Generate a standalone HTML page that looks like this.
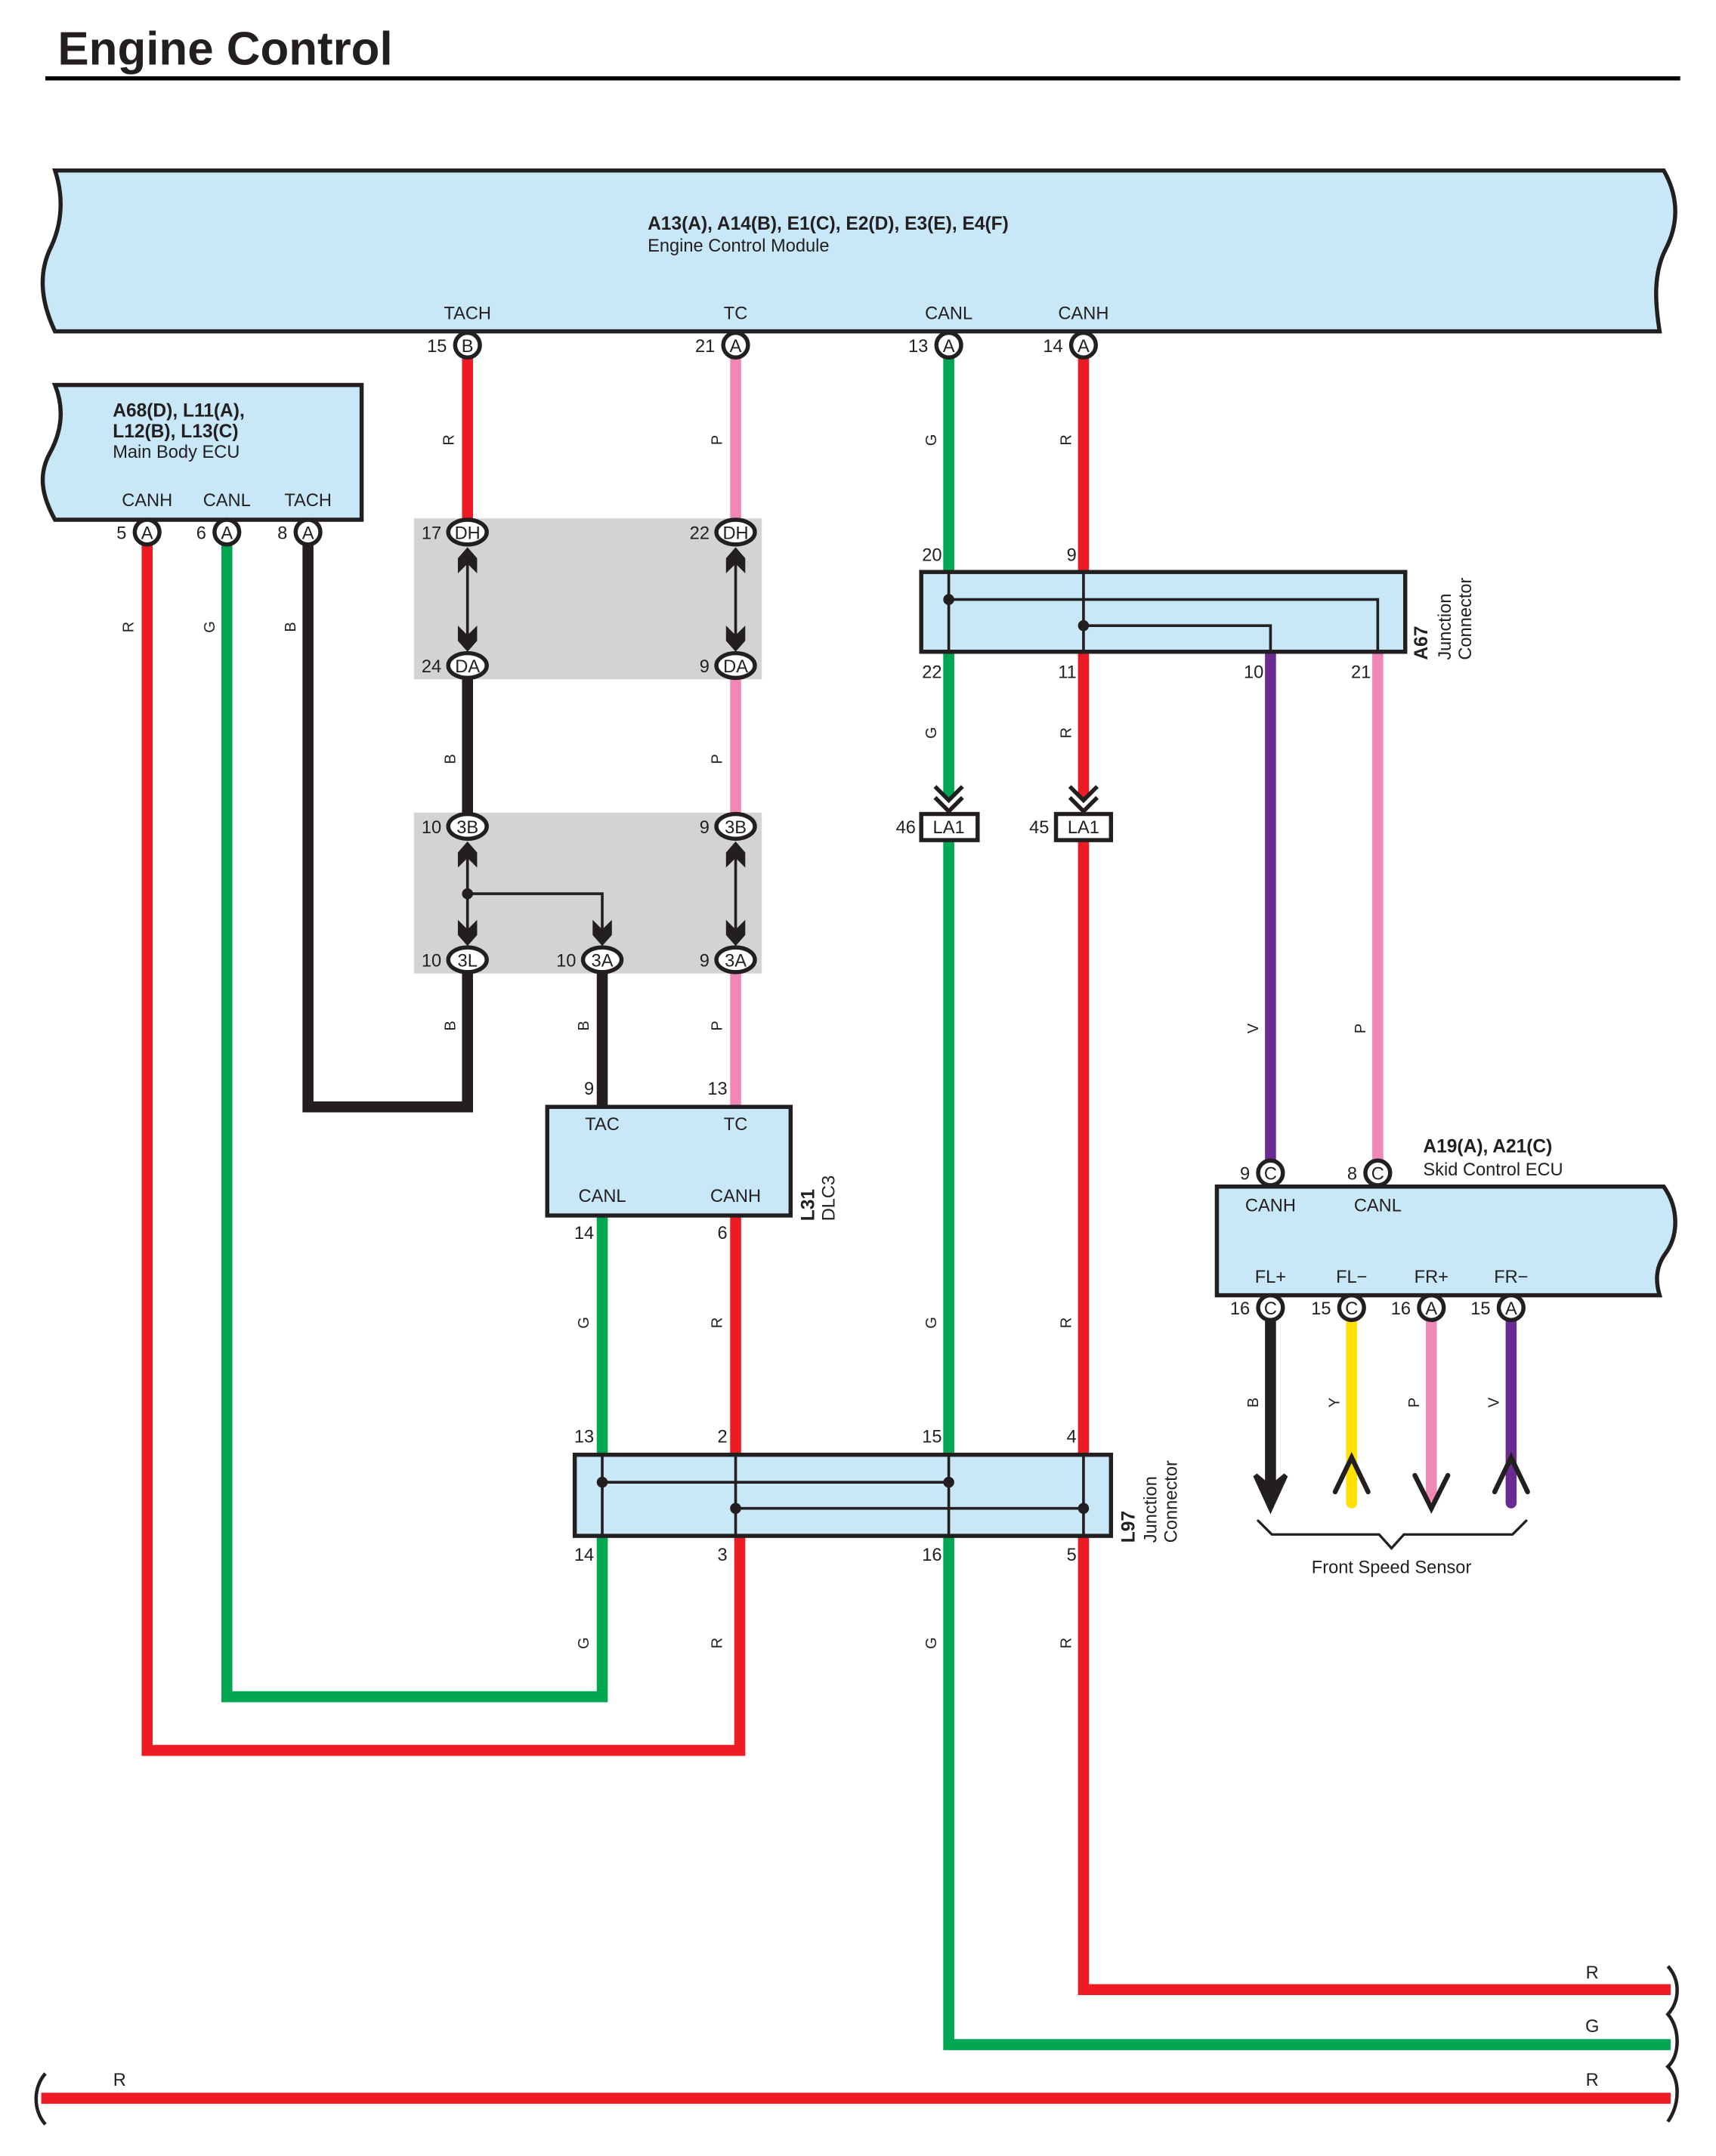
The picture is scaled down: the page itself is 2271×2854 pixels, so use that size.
<!DOCTYPE html>
<html><head><meta charset="utf-8"><style>
html,body{margin:0;padding:0;background:#fff}
svg{display:block}
text{font-family:"Liberation Sans",sans-serif;fill:#231f20}
.s{font-size:13px}
.b{font-weight:bold;font-size:13.5px}
.w{font-size:11px}
</style></head><body>
<svg width="2271" height="2854" viewBox="0 0 1248 1568" preserveAspectRatio="none" xmlns="http://www.w3.org/2000/svg">
<text x="42" y="47" style="font-size:34px;font-weight:bold">Engine Control</text>
<line x1="33" y1="57" x2="1222" y2="57" stroke="#000" stroke-width="3"/>

<!-- gray boxes -->
<rect x="301" y="377" width="253" height="117" fill="#d3d3d4"/>
<rect x="301" y="591" width="253" height="117" fill="#d3d3d4"/>

<!-- ECM -->
<path d="M40,124 H1210 C1222,145 1220,165 1211,182 C1202,200 1204,222 1207,241 H40 C30,220 28,200 36,182 C46,162 46,142 40,124 Z" fill="#c8e8f8" stroke="#231f20" stroke-width="3"/>
<text x="471" y="167" class="b">A13(A), A14(B), E1(C), E2(D), E3(E), E4(F)</text>
<text x="471" y="183" class="s">Engine Control Module</text>
<g class="s" text-anchor="middle">
<text x="340" y="232">TACH</text><text x="535" y="232">TC</text><text x="690" y="232">CANL</text><text x="788" y="232">CANH</text>
</g>

<!-- Main body ECU -->
<path d="M40,280 H263 V378 H40 C30,360 28,345 36,330 C46,312 46,295 40,280 Z" fill="#c8e8f8" stroke="#231f20" stroke-width="3"/>
<text x="82" y="303" class="b">A68(D), L11(A),</text>
<text x="82" y="318" class="b">L12(B), L13(C)</text>
<text x="82" y="333" class="s">Main Body ECU</text>
<g class="s" text-anchor="middle"><text x="107" y="368">CANH</text><text x="165" y="368">CANL</text><text x="224" y="368">TACH</text></g>

<!-- Wires -->
<g fill="none" stroke-width="8" stroke-linejoin="miter">
<line x1="340" y1="259" x2="340" y2="380" stroke="#ed1c24"/>
<line x1="535" y1="259" x2="535" y2="380" stroke="#f088b6"/>
<line x1="690" y1="259" x2="690" y2="416" stroke="#00a651"/>
<line x1="788" y1="259" x2="788" y2="416" stroke="#ed1c24"/>
<line x1="690" y1="474" x2="690" y2="580" stroke="#00a651"/>
<line x1="788" y1="474" x2="788" y2="580" stroke="#ed1c24"/>
<line x1="924" y1="474" x2="924" y2="845" stroke="#6b2c91"/>
<line x1="1002" y1="474" x2="1002" y2="845" stroke="#f088b6"/>
<polyline points="690,610 690,1487 1215,1487" stroke="#00a651"/>
<polyline points="788,610 788,1447 1215,1447" stroke="#ed1c24"/>
<line x1="30" y1="1526" x2="1215" y2="1526" stroke="#ed1c24"/>
<polyline points="107,395 107,1273 538,1273 538,1117" stroke="#ed1c24"/>
<polyline points="165,395 165,1234 438,1234 438,1117" stroke="#00a651"/>
<polyline points="224,395 224,805 340,805 340,706" stroke="#231f20"/>
<line x1="340" y1="492" x2="340" y2="593" stroke="#231f20"/>
<line x1="535" y1="492" x2="535" y2="593" stroke="#f088b6"/>
<line x1="438" y1="706" x2="438" y2="805" stroke="#231f20"/>
<line x1="535" y1="706" x2="535" y2="805" stroke="#f088b6"/>
<line x1="438" y1="884" x2="438" y2="1058" stroke="#00a651"/>
<line x1="535" y1="884" x2="535" y2="1058" stroke="#ed1c24"/>
<line x1="924" y1="959" x2="924" y2="1080" stroke="#231f20"/>
<g stroke-linecap="round">
<line x1="983" y1="959" x2="983" y2="1093" stroke="#ffe000"/>
<line x1="1041" y1="959" x2="1041" y2="1088" stroke="#f088b6"/>
<line x1="1099" y1="959" x2="1099" y2="1093" stroke="#6b2c91"/>
</g>
</g>
<!-- sensor arrows -->
<g fill="none" stroke-width="3.5" stroke-linecap="round">
<path d="M913,1073 L924,1097 L935,1073 L924,1082 Z" stroke="#231f20" fill="#231f20"/>
<polyline points="971,1085 983,1060 995,1085" stroke="#231f20"/>
<polyline points="1029,1073 1041,1097 1053,1073" stroke="#231f20"/>
<polyline points="1087,1085 1099,1060 1111,1085" stroke="#231f20"/>
<path d="M915,1106 L925,1116 H1003 L1012,1126 L1021,1116 H1100 L1110,1106" stroke="#231f20" stroke-width="1.8"/>
</g>
<text x="1012" y="1144" class="s" text-anchor="middle">Front Speed Sensor</text>

<!-- wavy ends -->
<g fill="none" stroke="#231f20" stroke-width="2.5">
<path d="M1213,1430 C1222,1440 1222,1455 1213,1465 C1222,1475 1222,1495 1213,1503 C1222,1512 1222,1530 1213,1543"/>
<path d="M33,1508 C24,1518 24,1535 33,1545"/>
</g>

<!-- A67 -->
<rect x="670" y="416" width="352" height="58" fill="#c8e8f8" stroke="#231f20" stroke-width="3"/>
<g fill="none" stroke="#231f20" stroke-width="2">
<line x1="690" y1="416" x2="690" y2="474"/><line x1="788" y1="416" x2="788" y2="474"/>
<polyline points="690,436 1002,436 1002,474"/><polyline points="788,455 924,455 924,474"/>
</g>
<circle cx="690" cy="436" r="4" fill="#231f20"/><circle cx="788" cy="455" r="4" fill="#231f20"/>
<g class="s" text-anchor="end"><text x="685" y="408">20</text><text x="783" y="408">9</text><text x="685" y="493">22</text><text x="783" y="493">11</text><text x="919" y="493">10</text><text x="997" y="493">21</text></g>
<text transform="translate(1038,480) rotate(-90)" class="b">A67</text>
<text transform="translate(1055,480) rotate(-90)" class="s">Junction</text>
<text transform="translate(1070,480) rotate(-90)" class="s">Connector</text>

<!-- LA1 -->
<g fill="none" stroke="#231f20" stroke-width="3">
<polyline points="680,572 690,582 700,572"/><polyline points="680,580 690,590 700,580"/>
<polyline points="778,572 788,582 798,572"/><polyline points="778,580 788,590 798,580"/>
</g>
<rect x="670" y="592" width="41" height="19" fill="#fff" stroke="#231f20" stroke-width="3"/>
<rect x="768" y="592" width="40" height="19" fill="#fff" stroke="#231f20" stroke-width="3"/>
<g class="s" text-anchor="middle"><text x="690" y="606">LA1</text><text x="788" y="606">LA1</text></g>
<g class="s" text-anchor="end"><text x="666" y="606">46</text><text x="763" y="606">45</text></g>

<!-- Skid ECU -->
<path d="M885,863 H1210 C1222,880 1220,900 1211,912 C1204,922 1204,932 1207,942 H885 Z" fill="#c8e8f8" stroke="#231f20" stroke-width="3"/>
<text x="1035" y="838" class="b">A19(A), A21(C)</text>
<text x="1035" y="855" class="s">Skid Control ECU</text>
<g class="s" text-anchor="middle"><text x="924" y="881">CANH</text><text x="1002" y="881">CANL</text>
<text x="924" y="933">FL+</text><text x="983" y="933">FL−</text><text x="1041" y="933">FR+</text><text x="1099" y="933">FR−</text></g>

<!-- DLC3 -->
<rect x="398" y="805" width="177" height="79" fill="#c8e8f8" stroke="#231f20" stroke-width="3"/>
<g class="s" text-anchor="middle"><text x="438" y="822">TAC</text><text x="535" y="822">TC</text><text x="438" y="874">CANL</text><text x="535" y="874">CANH</text></g>
<g class="s" text-anchor="end"><text x="432" y="796">9</text><text x="529" y="796">13</text><text x="432" y="901">14</text><text x="529" y="901">6</text></g>
<text transform="translate(592,888) rotate(-90)" class="b">L31</text>
<text transform="translate(607,888) rotate(-90)" class="s">DLC3</text>

<!-- L97 -->
<rect x="418" y="1058" width="390" height="59" fill="#c8e8f8" stroke="#231f20" stroke-width="3"/>
<g fill="none" stroke="#231f20" stroke-width="2">
<line x1="438" y1="1058" x2="438" y2="1117"/><line x1="535" y1="1058" x2="535" y2="1117"/><line x1="690" y1="1058" x2="690" y2="1117"/><line x1="788" y1="1058" x2="788" y2="1117"/>
<line x1="438" y1="1078" x2="690" y2="1078"/><line x1="535" y1="1097" x2="788" y2="1097"/>
</g>
<g fill="#231f20"><circle cx="438" cy="1078" r="4"/><circle cx="690" cy="1078" r="4"/><circle cx="535" cy="1097" r="4"/><circle cx="788" cy="1097" r="4"/></g>
<g class="s" text-anchor="end"><text x="432" y="1049">13</text><text x="529" y="1049">2</text><text x="685" y="1049">15</text><text x="783" y="1049">4</text>
<text x="432" y="1135">14</text><text x="529" y="1135">3</text><text x="685" y="1135">16</text><text x="783" y="1135">5</text></g>
<text transform="translate(825,1122) rotate(-90)" class="b">L97</text>
<text transform="translate(841,1122) rotate(-90)" class="s">Junction</text>
<text transform="translate(856,1122) rotate(-90)" class="s">Connector</text>

<!-- gray box internal arrows -->
<g fill="none" stroke="#231f20" stroke-width="2">
<line x1="340" y1="400" x2="340" y2="470"/><line x1="535" y1="400" x2="535" y2="470"/>
<line x1="340" y1="614" x2="340" y2="684"/><line x1="535" y1="614" x2="535" y2="684"/>
<polyline points="340,650 438,650 438,684"/>
</g>
<g fill="#231f20">
<path d="M333,417 V406 L340,398 L347,406 V417 L340,410 Z"/><path d="M333,455 V466 L340,474 L347,466 V455 L340,462 Z"/>
<path d="M528,417 V406 L535,398 L542,406 V417 L535,410 Z"/><path d="M528,455 V466 L535,474 L542,466 V455 L535,462 Z"/>
<path d="M333,631 V620 L340,612 L347,620 V631 L340,624 Z"/><path d="M333,669 V680 L340,688 L347,680 V669 L340,676 Z"/>
<path d="M528,631 V620 L535,612 L542,620 V631 L535,624 Z"/><path d="M528,669 V680 L535,688 L542,680 V669 L535,676 Z"/>
<path d="M431,669 V680 L438,688 L445,680 V669 L438,676 Z"/>
<circle cx="340" cy="650" r="4"/>
</g>

<!-- pins -->
<g fill="#fff" stroke="#231f20" stroke-width="3">
<circle cx="340" cy="251" r="9"/><circle cx="535" cy="251" r="9"/><circle cx="690" cy="251" r="9"/><circle cx="788" cy="251" r="9"/>
<circle cx="107" cy="387" r="9"/><circle cx="165" cy="387" r="9"/><circle cx="224" cy="387" r="9"/>
<circle cx="924" cy="853" r="9"/><circle cx="1002" cy="853" r="9"/>
<circle cx="924" cy="951" r="9"/><circle cx="983" cy="951" r="9"/><circle cx="1041" cy="951" r="9"/><circle cx="1099" cy="951" r="9"/>
<ellipse cx="340" cy="387" rx="14" ry="9"/><ellipse cx="535" cy="387" rx="14" ry="9"/>
<ellipse cx="340" cy="484" rx="14" ry="9"/><ellipse cx="535" cy="484" rx="14" ry="9"/>
<ellipse cx="340" cy="601" rx="14" ry="9"/><ellipse cx="535" cy="601" rx="14" ry="9"/>
<ellipse cx="340" cy="698" rx="14" ry="9"/><ellipse cx="438" cy="698" rx="14" ry="9"/><ellipse cx="535" cy="698" rx="14" ry="9"/>
</g>
<g class="s" text-anchor="middle">
<text x="340" y="256">B</text><text x="535" y="256">A</text><text x="690" y="256">A</text><text x="788" y="256">A</text>
<text x="107" y="392">A</text><text x="165" y="392">A</text><text x="224" y="392">A</text>
<text x="924" y="858">C</text><text x="1002" y="858">C</text>
<text x="924" y="956">C</text><text x="983" y="956">C</text><text x="1041" y="956">A</text><text x="1099" y="956">A</text>
<text x="340" y="392">DH</text><text x="535" y="392">DH</text><text x="340" y="489">DA</text><text x="535" y="489">DA</text>
<text x="340" y="606">3B</text><text x="535" y="606">3B</text><text x="340" y="703">3L</text><text x="438" y="703">3A</text><text x="535" y="703">3A</text>
</g>
<g class="s" text-anchor="end">
<text x="325" y="256">15</text><text x="520" y="256">21</text><text x="675" y="256">13</text><text x="773" y="256">14</text>
<text x="92" y="392">5</text><text x="150" y="392">6</text><text x="209" y="392">8</text>
<text x="909" y="858">9</text><text x="987" y="858">8</text>
<text x="909" y="956">16</text><text x="968" y="956">15</text><text x="1026" y="956">16</text><text x="1084" y="956">15</text>
<text x="321" y="392">17</text><text x="516" y="392">22</text><text x="321" y="489">24</text><text x="516" y="489">9</text>
<text x="321" y="606">10</text><text x="516" y="606">9</text><text x="321" y="703">10</text><text x="419" y="703">10</text><text x="516" y="703">9</text>
</g>

<!-- wire color labels -->
<g class="w" text-anchor="middle">
<text transform="translate(330,320) rotate(-90)">R</text><text transform="translate(525,320) rotate(-90)">P</text>
<text transform="translate(681,320) rotate(-90)">G</text><text transform="translate(779,320) rotate(-90)">R</text>
<text transform="translate(97,456) rotate(-90)">R</text><text transform="translate(156,456) rotate(-90)">G</text><text transform="translate(215,456) rotate(-90)">B</text>
<text transform="translate(331,552) rotate(-90)">B</text><text transform="translate(525,552) rotate(-90)">P</text>
<text transform="translate(681,533) rotate(-90)">G</text><text transform="translate(779,533) rotate(-90)">R</text>
<text transform="translate(915,748) rotate(-90)">V</text><text transform="translate(993,748) rotate(-90)">P</text>
<text transform="translate(331,746) rotate(-90)">B</text><text transform="translate(428,746) rotate(-90)">B</text><text transform="translate(525,746) rotate(-90)">P</text>
<text transform="translate(428,962) rotate(-90)">G</text><text transform="translate(525,962) rotate(-90)">R</text>
<text transform="translate(681,962) rotate(-90)">G</text><text transform="translate(779,962) rotate(-90)">R</text>
<text transform="translate(915,1020) rotate(-90)">B</text><text transform="translate(974,1020) rotate(-90)">Y</text>
<text transform="translate(1032,1020) rotate(-90)">P</text><text transform="translate(1090,1020) rotate(-90)">V</text>
<text transform="translate(428,1195) rotate(-90)">G</text><text transform="translate(525,1195) rotate(-90)">R</text>
<text transform="translate(681,1195) rotate(-90)">G</text><text transform="translate(779,1195) rotate(-90)">R</text>
<text x="1158" y="1439" class="s">R</text><text x="1158" y="1478" class="s">G</text><text x="1158" y="1517" class="s">R</text><text x="87" y="1517" class="s">R</text>
</g>
</svg>
</body></html>
